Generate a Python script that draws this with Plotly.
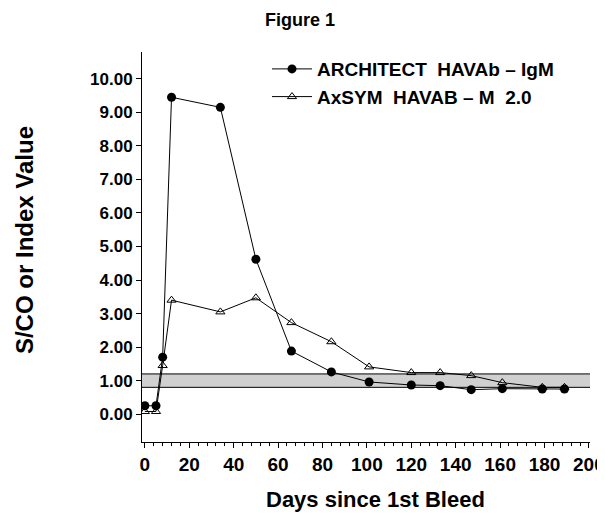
import plotly.graph_objects as go

days_arch = [0, 5, 8, 12, 34, 50, 66, 84, 101, 120, 133, 147, 161, 179, 189]
arch_vals = [0.25, 0.25, 1.70, 9.45, 9.15, 4.62, 1.88, 1.26, 0.96, 0.87, 0.85, 0.73, 0.76, 0.75, 0.75]
days_axsym = [0, 5, 8, 12, 34, 50, 66, 84, 101, 120, 133, 147, 161, 179, 189]
axsym_vals = [0.08, 0.08, 1.45, 3.40, 3.05, 3.47, 2.73, 2.16, 1.41, 1.24, 1.24, 1.15, 0.94, 0.80, 0.80]
band = [0.8, 1.2]
y_ticks = [0, 1, 2, 3, 4, 5, 6, 7, 8, 9, 10]
y_labels = ["%.2f" % v for v in y_ticks]
x_ticks = list(range(0, 201, 20))

FONT = "Liberation Sans"

fig = go.Figure()
fig.add_hrect(y0=band[0], y1=band[1], fillcolor="#d0d0d0", line_width=0, layer="below")
for yv in band:
    fig.add_hline(y=yv, line=dict(color="black", width=1), layer="below")

fig.add_trace(go.Scatter(
    x=days_arch, y=arch_vals, mode="lines+markers",
    name="ARCHITECT  HAVAb \u2013 IgM",
    line=dict(color="black", width=1),
    marker=dict(symbol="circle", size=9, color="black"),
))
fig.add_trace(go.Scatter(
    x=days_axsym, y=axsym_vals, mode="lines+markers",
    name="AxSYM  HAVAB \u2013 M  2.0",
    line=dict(color="black", width=1),
    marker=dict(symbol="triangle-up-open", size=8, color="black", line=dict(width=1)),
))

fig.add_annotation(text="<b>Figure 1</b>", xref="paper", yref="paper", x=0.353, y=1.082,
                   showarrow=False, xanchor="center", yanchor="middle",
                   font=dict(size=18, family=FONT))
fig.add_annotation(text="<b>S/CO or Index Value</b>", xref="paper", yref="paper", x=-0.261, y=0.518,
                   showarrow=False, xanchor="center", yanchor="middle", textangle=-90,
                   font=dict(size=24, family=FONT))
fig.add_annotation(text="<b>Days since 1st Bleed</b>", xref="paper", yref="paper", x=0.522, y=-0.148,
                   showarrow=False, xanchor="center", yanchor="middle",
                   font=dict(size=22, family=FONT))

fig.update_layout(
    width=597, height=507,
    paper_bgcolor="white", plot_bgcolor="white",
    margin=dict(l=134, r=15, t=44, b=73),
    font=dict(family=FONT, color="black"),
    showlegend=True,
    legend=dict(x=0.279, y=1.005, xanchor="left", yanchor="top", bgcolor="rgba(0,0,0,0)",
                font=dict(size=19, family=FONT, weight="bold"), tracegroupgap=0,
                itemwidth=40),
    xaxis=dict(
        range=[-1.3, 200.5], showline=True, linecolor="black", linewidth=1,
        showgrid=False, zeroline=False, ticks="outside", ticklen=5, tickcolor="black",
        tickvals=x_ticks, tickfont=dict(size=19, family=FONT, weight="bold"),
        minor=dict(dtick=4, ticks="outside", ticklen=3, tickcolor="black", showgrid=False),
        automargin=False,
    ),
    yaxis=dict(
        range=[-0.83, 10.8], showline=True, linecolor="black", linewidth=1,
        showgrid=False, zeroline=False, ticks="outside", ticklen=5, tickcolor="black",
        tickvals=y_ticks, ticktext=y_labels, tickfont=dict(size=17, family=FONT, weight="bold"),
        automargin=False,
    ),
)

fig.write_html("out.html")
